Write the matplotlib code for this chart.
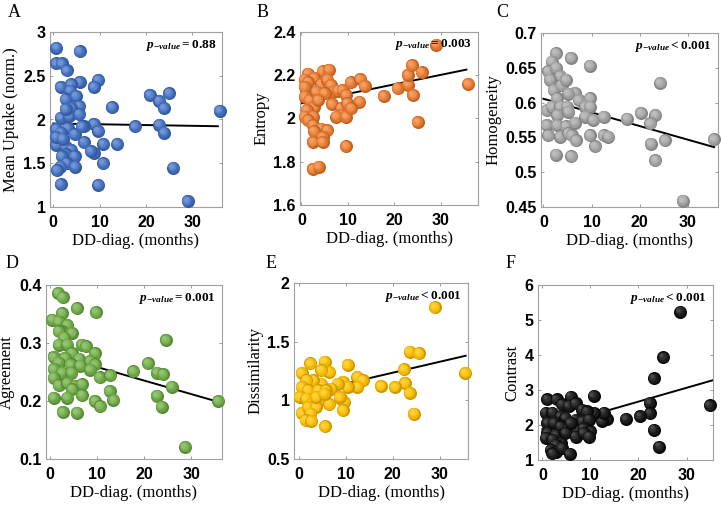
import numpy as np
import matplotlib
matplotlib.use("Agg")
import matplotlib.pyplot as plt
from matplotlib import transforms
from matplotlib.colors import to_rgb

plt.rcParams['mathtext.fontset'] = 'custom'
plt.rcParams['mathtext.rm'] = 'Liberation Serif:bold'
plt.rcParams['mathtext.it'] = 'Liberation Serif:italic:bold'
plt.rcParams['mathtext.bf'] = 'Liberation Serif:bold'

# ---------------- data ----------------
A_x = [0.7,0.6,1.8,2.9,5.7,5.7,9.7,8.8,1.6,3.8,3.6,2.7,4.9,5.6,3.8,1.6,3.4,12.7,20.9,25.0,22.9,23.9,35.9,22.9,23.9,17.7,8.8,9.7,6.6,0.6,3.1,4.6,6.6,8.8,10.8,13.8,0.6,2.7,3.9,2.7,1.8,4.6,2.9,1.5,4.7,0.8,10.8,25.9,1.6,9.7,29.0,8.1,6.1,1.6,0.6,2.0,5.6,2.7]
A_y = [2.82,2.64,2.64,2.56,2.78,2.43,2.45,2.37,2.37,2.40,2.33,2.23,2.27,2.15,2.13,2.02,2.04,2.14,2.28,2.30,2.21,2.13,2.10,1.94,1.85,1.92,1.95,1.87,1.92,1.89,1.90,1.83,1.74,1.62,1.72,1.72,1.71,1.69,1.65,1.60,1.58,1.58,1.50,1.46,1.46,1.42,1.50,1.45,1.26,1.25,1.07,1.64,1.92,1.85,1.80,1.78,2.06,2.12]

B_x = [1.4,4.6,5.9,0.7,2.7,1.4,0.7,4.3,5.6,6.4,6.8,7.9,8.9,9.6,10.6,12.7,13.6,12.5,17.7,20.7,22.9,22.9,23.8,25.9,24.0,25.0,29.0,35.9,0.7,1.8,2.7,1.1,0.7,2.5,1.4,2.5,4.3,5.6,2.7,4.6,2.5,4.6,9.6,2.5,3.7,6.6,8.6,9.9,8.6,7.5,9.6,10.7,3.2,5.0,3.6]
B_y = [2.207,2.218,2.226,2.179,2.187,2.167,2.145,2.16,2.18,2.155,2.124,2.129,2.132,2.109,2.168,2.182,2.151,2.078,2.104,2.14,2.156,2.202,2.246,2.213,2.109,1.984,2.342,2.159,2.101,2.086,2.054,2.039,2.008,2.008,1.992,1.969,1.953,1.945,1.941,1.914,1.891,1.891,1.872,1.767,1.777,2.067,2.047,2.07,2.016,2.008,2.008,2.047,2.124,2.117,2.086]

C_x = [2.6,5.7,1.7,1.0,2.6,9.7,3.5,1.4,2.1,3.8,4.7,6.6,5.2,2.8,0.7,1.7,3.5,7.3,9.7,8.7,4.9,9.7,2.9,5.2,8.7,10.4,12.5,17.4,20.3,23.3,22.2,24.3,0.7,2.8,4.7,6.6,1.0,3.5,5.2,5.9,6.8,9.7,12.5,13.5,10.8,25.3,22.4,23.3,35.5,2.6,5.8,29.0]
C_y = [0.671,0.664,0.659,0.645,0.650,0.653,0.638,0.633,0.618,0.625,0.633,0.614,0.613,0.606,0.589,0.594,0.594,0.604,0.606,0.594,0.594,0.594,0.582,0.587,0.580,0.575,0.580,0.577,0.585,0.582,0.570,0.628,0.568,0.568,0.566,0.571,0.553,0.551,0.556,0.553,0.546,0.553,0.553,0.551,0.537,0.546,0.541,0.517,0.547,0.525,0.523,0.459]

D_x = [1.8,2.7,5.8,9.8,0.5,2.6,1.9,3.7,2.6,4.7,1.9,3.0,1.9,3.7,6.8,7.7,4.7,9.6,0.8,3.2,6.2,1.9,4.4,6.5,8.6,9.6,8.6,0.8,2.6,4.6,10.6,12.8,17.7,20.8,22.7,24.0,24.6,25.8,22.7,23.7,28.7,35.7,0.8,1.9,3.7,5.4,6.8,4.7,6.8,0.8,3.7,9.6,10.7,12.7,13.5,2.7,5.8]
D_y = [0.386,0.379,0.360,0.353,0.340,0.351,0.337,0.331,0.320,0.317,0.320,0.309,0.297,0.297,0.297,0.294,0.282,0.282,0.276,0.274,0.273,0.266,0.263,0.261,0.269,0.263,0.254,0.255,0.249,0.249,0.241,0.244,0.251,0.265,0.249,0.246,0.305,0.225,0.209,0.190,0.121,0.200,0.240,0.227,0.231,0.226,0.229,0.220,0.210,0.206,0.206,0.200,0.191,0.217,0.202,0.181,0.180]

E_x = [29.0,23.6,25.6,35.4,22.4,22.6,23.6,24.5,17.5,20.5,10.4,5.5,2.5,0.6,6.5,4.8,12.5,13.6,12.5,9.4,10.4,8.3,6.9,4.8,3.0,1.6,0.6,2.0,4.1,5.8,0.2,1.6,3.0,4.8,6.5,9.0,9.7,8.7,9.4,0.6,2.0,3.7,2.5,1.5,2.7,5.6,3.7,5.5]
E_y = [1.794,1.414,1.40,1.234,1.263,1.149,1.063,0.886,1.123,1.114,1.30,1.329,1.314,1.234,1.243,1.257,1.20,1.171,1.114,1.157,1.114,1.143,1.10,1.143,1.171,1.171,1.114,1.086,1.086,1.086,1.029,1.014,0.986,1.014,0.966,1.014,0.986,1.029,0.914,0.891,0.943,0.943,0.886,0.829,0.823,0.777,1.029,1.057]

F_x = [28.7,25.2,23.2,22.4,22.4,23.2,24.3,34.8,20.3,17.4,10.7,13.4,12.4,12.8,10.7,5.9,1.0,3.0,4.1,5.5,6.9,8.3,9.3,0.7,2.1,3.8,4.8,6.9,8.3,9.7,1.0,2.4,3.8,5.5,7.2,8.6,10.0,1.0,2.8,4.8,6.9,8.6,9.7,0.7,2.1,3.8,2.8,1.7,2.8,2.1,4.1,5.7,5.9]
F_y = [5.23,3.93,3.33,2.63,2.33,1.87,1.38,2.56,2.25,2.17,2.83,2.17,2.11,2.35,2.35,2.81,2.73,2.73,2.59,2.54,2.62,2.44,2.39,2.35,2.35,2.25,2.20,2.15,2.11,2.15,2.06,2.06,1.96,1.91,1.87,1.91,1.82,1.77,1.72,1.77,1.67,1.77,1.67,1.63,1.58,1.48,1.43,1.29,1.24,1.19,1.34,1.17,2.06]

# regression line: value at x=0 and at x=35.5
fit_x = [0.0, 35.5]
A_fit = [1.954, 1.923]
B_fit = [2.070, 2.226]
C_fit = [0.6055, 0.536]
D_fit = [0.282, 0.199]
E_fit = [1.049, 1.380]
F_fit = [1.880, 3.280]

panel_letters = ['A', 'B', 'C', 'D', 'E', 'F']
y_labels = ['Mean Uptake (norm.)', 'Entropy', 'Homogeneity', 'Agreement', 'Dissimilarity', 'Contrast']
p_texts = [r'$p_{-value}=0.88$', r'$p_{-value}=0.003$', r'$p_{-value}<0.001$',
           r'$p_{-value}=0.001$', r'$p_{-value}<0.001$', r'$p_{-value}<0.001$']
x_label = 'DD-diag. (months)'
x_ticks = [0, 10, 20, 30]
y_ticks = [[1, 1.5, 2, 2.5, 3], [1.6, 1.8, 2.0, 2.2, 2.4], [0.45, 0.5, 0.55, 0.6, 0.65, 0.7],
           [0.1, 0.2, 0.3, 0.4], [0.5, 1, 1.5, 2], [1, 2, 3, 4, 5, 6]]
y_ticklabels = [['1', '1.5', '2', '2.5', '3'], ['1.6', '1.8', '2', '2.2', '2.4'],
                ['0.45', '0.5', '0.55', '0.6', '0.65', '0.7'], ['0.1', '0.2', '0.3', '0.4'],
                ['0.5', '1', '1.5', '2'], ['1', '2', '3', '4', '5', '6']]
colors = ['#4472C4', '#ED7D31', '#A5A5A5', '#70AD47', '#FFC000', '#1A1A1A']

# ---------------- layout ----------------
W, H = 721, 505
fig = plt.figure(figsize=(W / 100, H / 100), dpi=100)
boxes = [(50, 32, 222, 207), (300, 32, 478, 205), (541, 33, 718, 207),
         (46, 285, 222, 459), (294, 283, 468, 459), (538, 285, 713, 460)]
xlims = [(-0.7, 36.4), (-0.3, 38.0), (-0.5, 36.3), (-0.8, 36.5), (-1.0, 36.0), (-0.9, 35.5)]
letter_pos = [(8, 4), (257, 4), (496, 4), (6, 255), (266, 255), (506, 255)]


def mix(c, t, target):
    c = np.array(to_rgb(c))
    return tuple(c * (1 - t) + np.array(target) * t)


def balls(ax, xs, ys, color, diam=9.4, z0=3):
    r = diam / 2
    dark = color == '#1A1A1A'
    if dark:
        layers = [(1.0, '#0A0A0A', 0.0), (0.8, '#1C1C1C', 0.12), (0.55, '#303030', 0.25),
                  (0.3, '#4A4A4A', 0.35)]
    else:
        layers = [(1.0, mix(color, 0.2, (0, 0, 0)), 0.0), (0.86, mix(color, 0.05, (0, 0, 0)), 0.1),
                  (0.62, mix(color, 0.12, (1, 1, 1)), 0.2), (0.38, mix(color, 0.25, (1, 1, 1)), 0.3)]
    for i, (x, y) in enumerate(zip(xs, ys)):
        for j, (f, c, o) in enumerate(layers):
            tr = transforms.offset_copy(ax.transData, fig=fig, x=-o * r, y=o * r, units='points')
            ax.scatter([x], [y], s=(diam * f) ** 2, color=c, linewidths=0, transform=tr,
                       clip_on=False, zorder=z0 + i * 0.01 + j * 0.001)


datasets = [(A_x, A_y, A_fit), (B_x, B_y, B_fit), (C_x, C_y, C_fit),
            (D_x, D_y, D_fit), (E_x, E_y, E_fit), (F_x, F_y, F_fit)]

for k in range(6):
    l, t, r_, b = boxes[k]
    ax = fig.add_axes([l / W, 1 - b / H, (r_ - l) / W, (b - t) / H])
    xs, ys, fit = datasets[k]
    ax.plot(fit_x, fit, color='black', lw=1.4, zorder=2)
    balls(ax, xs, ys, colors[k])
    ax.set_xlim(*xlims[k])
    ax.set_ylim(y_ticks[k][0], y_ticks[k][-1])
    ax.set_xticks(x_ticks)
    ax.set_xticklabels([str(v) for v in x_ticks], fontfamily='Liberation Sans',
                       fontweight='bold', fontsize=11.5)
    ax.set_yticks(y_ticks[k])
    ax.set_yticklabels(y_ticklabels[k], fontfamily='Liberation Sans', fontweight='bold',
                       fontsize=11.5)
    ax.tick_params(direction='in', length=2.5, width=0.6, color='#8a8a8a',
                   top=True, right=True, pad=3)
    ax.tick_params(axis='x', pad=6)
    for s in ax.spines.values():
        s.set_color('#a0a0a0')
        s.set_linewidth(0.8)
    ax.set_xlabel(x_label, fontfamily='Liberation Serif', fontsize=12, labelpad=2)
    ax.set_ylabel(y_labels[k], fontfamily='Liberation Serif', fontsize=12, labelpad=3)
    ax.text(0.965, 0.925, p_texts[k], transform=ax.transAxes, ha='right', va='center',
            fontsize=9.5, zorder=10)
    lx, ly = letter_pos[k]
    fig.text(lx / W, 1 - ly / H, panel_letters[k], fontfamily='Liberation Serif',
             fontsize=13, va='top', ha='left')

fig.savefig('out.png', dpi=100)
